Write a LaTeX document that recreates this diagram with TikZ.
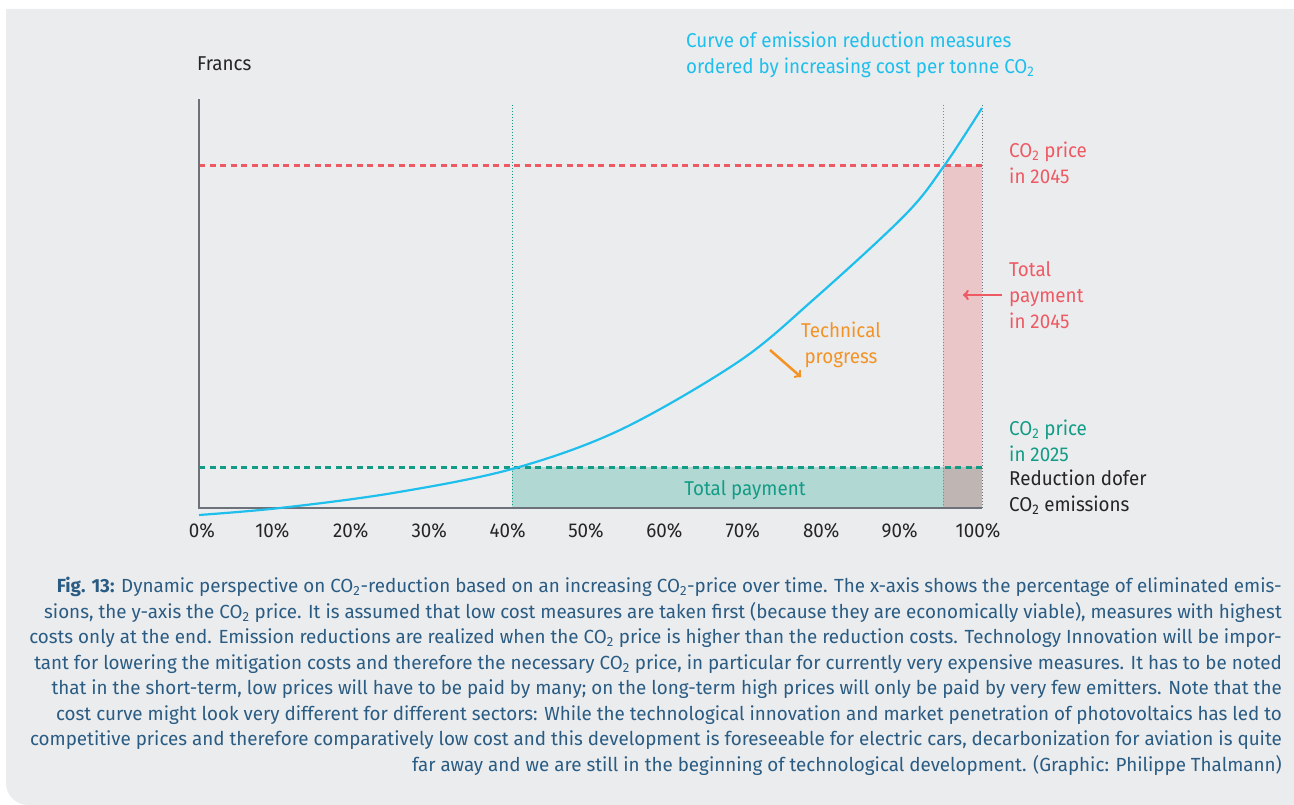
\documentclass[tikz,border=0pt]{standalone}
\usepackage{fontspec}
\setmainfont[FakeStretch=0.94]{Fira Sans}
\newfontfamily\capfont[FakeStretch=0.99]{Fira Sans}
\usetikzlibrary{positioning}
\definecolor{panelgray}{HTML}{EBECEE}
\definecolor{curvecyan}{HTML}{1EBFEC}
\definecolor{pricered}{HTML}{EE5A64}
\definecolor{pricegreen}{HTML}{129C86}
\definecolor{greenfill}{HTML}{B2D8D3}
\definecolor{redfill}{HTML}{EAC6C9}
\definecolor{bothfill}{HTML}{BFB5B3}
\definecolor{progorange}{HTML}{F39326}
\definecolor{axisgray}{HTML}{6C717A}
\definecolor{captionblue}{HTML}{2A5C83}
\definecolor{textblack}{HTML}{252525}
\newcommand{\cotwo}{CO\textsubscript{2}}
\tikzset{lbl/.style={font=\fontsize{20}{26}\selectfont, inner sep=0pt, align=left, anchor=west},
  ticklabel/.style={font=\fontsize{20}{26}\selectfont, inner sep=0pt, text=textblack},
  pricedash/.style={dash pattern=on 6 off 4.5, line width=3},
  guide/.style={dotted, line width=1}}

\begin{document}
\begin{tikzpicture}[x=1pt, y=-1pt]
            \useasboundingbox (0,0) rectangle (1294,805);
            \fill[panelgray] (1294,9) -- (6,9) -- (6,783) arc[start angle=180, end angle=90, radius=22] -- (1294,805) -- cycle;
            % payment areas
            \fill[greenfill] (512,467) rectangle (943,508);
            \fill[redfill] (943,166) rectangle (982,467);
            \fill[bothfill] (943,467) rectangle (982,508);
            % dotted guides
            \coordinate (g40top) at (512,105);  \coordinate (g40bot) at (512,508);
            \coordinate (g95top) at (943,105);  \coordinate (g95bot) at (943,508);
            \coordinate (g100top) at (982,105); \coordinate (g100bot) at (982,508);
            \draw[guide, pricegreen] (g40top) -- (g40bot);
            \draw[guide, pricered] (g95top) -- (g95bot);
            \draw[guide, axisgray] (g100top) -- (g100bot);
            % price levels
            \coordinate (p45l) at (199,166); \coordinate (p45r) at (982,166);
            \coordinate (p25l) at (199,467); \coordinate (p25r) at (982,467);
            \draw[pricedash, pricered] (p45l) -- (p45r);
            \draw[pricedash, pricegreen] (p25l) -- (p25r);
            % axes
            \coordinate (ytop) at (199,99); \coordinate (origin) at (199,508); \coordinate (xend) at (982,508);
            \draw[axisgray, line width=2] (ytop) -- (origin) -- (xend);
            % cost curve
            \draw[curvecyan, line width=2.2] plot[smooth, tension=0.55] coordinates {(199,515) (280,508) (393,493) (512,469) (620,430) (738,362) (813,300) (905,215) (944,166) (982,108)};
            \foreach \p in {0,10,...,100}
                \node[ticklabel] (t\p) at ({\p==0 ? 202 : 194+7.84*\p},531) {\p\%};
            \node[lbl, text=textblack] (francs) at (197,64) {Francs};
            \node[lbl, text=curvecyan] (curvetitle) at (686,55) {Curve of emission reduction measures\\ordered by increasing cost per tonne \cotwo};
            \node[lbl, text=pricered] (price45) at (1009,163) {\cotwo{} price\\in 2045};
            \node[lbl, text=pricered] (pay45) at (1009,295) {Total\\payment\\in 2045};
            \node[lbl, text=pricegreen] (price25) at (1009,441) {\cotwo{} price\\in 2025};
            \node[lbl, text=textblack] (reduction) at (1009,492) {Reduction dofer\\\cotwo{} emissions};
            \node[lbl, anchor=center, text=pricegreen] (pay25) at (745,490) {Total payment};
            \node[lbl, anchor=center, align=center, text=progorange] (progress) at (841,345) {Technical\\progress};
            \coordinate (pay45tip) at (963,295);
            \draw[->, pricered, line width=2.5] (pay45.west) ++(-7,0) -- (pay45tip);
            \coordinate (progtail) at (770,350); \coordinate (progtip) at (801,377);
            \draw[->, progorange, line width=2.5] (progtail) -- (progtip);
            \node[font=\capfont\fontsize{19}{25.5}\selectfont, text=captionblue, align=right, anchor=north east, inner sep=0pt] (caption) at (1282,577) {\textbf{Fig. 13:} Dynamic perspective on \cotwo-reduction based on an increasing \cotwo-price over time. The x-axis shows the percentage of eliminated emis-\\
sions, the y-axis the \cotwo{} price. It is assumed that low cost measures are taken first (because they are economically viable), measures with highest\\
costs only at the end. Emission reductions are realized when the \cotwo{} price is higher than the reduction costs. Technology Innovation will be impor-\\
tant for lowering the mitigation costs and therefore the necessary \cotwo{} price, in particular for currently very expensive measures. It has to be noted\\
that in the short-term, low prices will have to be paid by many; on the long-term high prices will only be paid by very few emitters. Note that the\\
cost curve might look very different for different sectors: While the technological innovation and market penetration of photovoltaics has led to\\
competitive prices and therefore comparatively low cost and this development is foreseeable for electric cars, decarbonization for aviation is quite\\
far away and we are still in the beginning of technological development. (Graphic: Philippe Thalmann)};
        \end{tikzpicture}
\end{document}
